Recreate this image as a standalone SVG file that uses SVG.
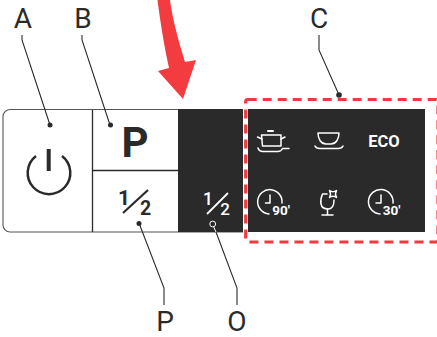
<svg xmlns="http://www.w3.org/2000/svg" width="437" height="337" viewBox="0 0 437 337">
<style>
.lbl{font-family:"Roboto","Liberation Sans",sans-serif;font-size:28px;fill:#2b2a2b;text-anchor:middle}
.lead{fill:none;stroke:#2b2a2b;stroke-width:1.1}
.dk{fill:none;stroke:#2b2a2b;stroke-width:1.3}
.ic{fill:none;stroke:#fff;stroke-width:1.5;stroke-linecap:round;stroke-linejoin:round}
.w{font-family:"Roboto","Liberation Sans",sans-serif;font-weight:700;fill:#fff;stroke:none}
.frac{font-family:"Roboto","Liberation Sans",sans-serif;font-weight:700;text-anchor:middle}
</style>
<g id="panel">
<path d="M243 109.500H10a7 7 0 0 0-7 7V225a7 7 0 0 0 7 7H243" fill="#fff" stroke="#555" stroke-width="1.100"/>
<rect x="178" y="109" width="65" height="123" fill="#2b2a2b"/>
<rect x="248" y="109" width="177" height="123" fill="#2b2a2b"/>
<path d="M92.500 110V232M93 170.500H178" class="dk"/>
</g>
<g id="node-power">
<path d="M48.700 149V171" fill="none" stroke="#2b2a2b" stroke-width="4"/>
<path d="M36 156A21.300 21.300 0 1 0 62 156" fill="none" stroke="#2b2a2b" stroke-width="2.500"/>
</g>
<g id="node-p"><text x="135" y="157" font-family="Roboto,'Liberation Sans',sans-serif" font-weight="700" font-size="42" text-anchor="middle" fill="#2b2a2b">P</text></g>
<g id="node-half-light">
<text x="124" y="205" class="frac" font-size="21" fill="#2b2a2b">1</text>
<text x="145.500" y="214.500" class="frac" font-size="19.500" fill="#2b2a2b">2</text>
<path d="M123 213L148 190" stroke="#2b2a2b" stroke-width="2.200" fill="none"/>
</g>
<g id="node-half-dark">
<text x="208" y="205" class="frac" font-size="17.500" fill="#fff" font-weight="500" style="font-weight:500">1</text>
<text x="225" y="214.500" class="frac" font-size="17" fill="#fff" style="font-weight:500">2</text>
<path d="M207 214L228 193" stroke="#fff" stroke-width="1.800" fill="none"/>
</g>
<g id="node-pot" class="ic">
<path d="M268 131H273" stroke-width="2"/>
<path d="M261.500 135H281V146H262.500Z"/>
<path d="M257.500 137L262 139M285 137L281 139"/>
<path d="M258 148Q259 151.500 263 151.500H278Q281 151.500 282.500 148.500H289"/>
</g>
<g id="node-bowl" class="ic">
<path d="M318 133H339C339 139 336 144 331 144H326C321 144 318 139 318 133Z"/>
<path d="M315 146Q316 148.500 320 148.500H338Q342 148.500 343 146"/>
</g>
<g id="node-eco"><text x="384" y="147" class="w" font-size="16.500" text-anchor="middle">ECO</text></g>
<g id="node-90" class="ic">
<path d="M282 203A12.200 12.200 0 1 0 269 214"/>
<path d="M270 195V203H265.500"/>
<text x="281" y="215" class="w" font-size="13.500" text-anchor="middle">90′</text>
</g>
<g id="node-glass" class="ic">
<path d="M327 194H322.500C320 200 319 209 328 209C332 209 334 206 334 200"/>
<path d="M327.500 209V215M322 215H333"/>
<path d="M329.500 190.500Q333 193 336.500 190.500Q334.500 194 336.500 197.500Q333 195 329.500 197.500Q331.500 194 329.500 190.500Z"/>
</g>
<g id="node-30" class="ic">
<path d="M393 203A12.300 12.300 0 1 0 380 214"/>
<path d="M381 195V203H376"/>
<text x="391.500" y="215" class="w" font-size="13.500" text-anchor="middle">30′</text>
</g>
<g id="node-selection">
<rect x="245.700" y="99.500" width="192.300" height="142.500" rx="2" fill="none" stroke="#f03a40" stroke-width="3.200" stroke-dasharray="9 6"/>
</g>
<g id="node-arrow">
<path d="M157.500 0L170 0C173 22 179 42 185 62L196 60L183 99L158 71L169 68C164 45 160 20 157.500 0Z" fill="#f23c3f"/>
</g>
<g id="connectors">
<path class="lead" d="M22 35V40L50 125M82 35V40L110 125M319 35V50L339 95M139 223L164 288V305M216 232L237 288V305"/>
<path d="M213.500 226.500L216 232" fill="none" stroke="#fff" stroke-width="1"/>
<g fill="#2b2a2b"><circle cx="50" cy="125" r="2.500"/><circle cx="110.500" cy="125" r="2.500"/><circle cx="339" cy="95" r="2.800"/><circle cx="139" cy="223.500" r="2.500"/></g>
<circle cx="212.700" cy="224" r="2.900" fill="#2b2a2b" stroke="#fff" stroke-width="1"/>
</g>
<g id="labels">
<text x="23" y="28" class="lbl">A</text>
<text x="83" y="28" class="lbl">B</text>
<text x="319" y="28" class="lbl">C</text>
<text x="165" y="331" class="lbl">P</text>
<text x="237" y="331" class="lbl">O</text>
</g>
</svg>
